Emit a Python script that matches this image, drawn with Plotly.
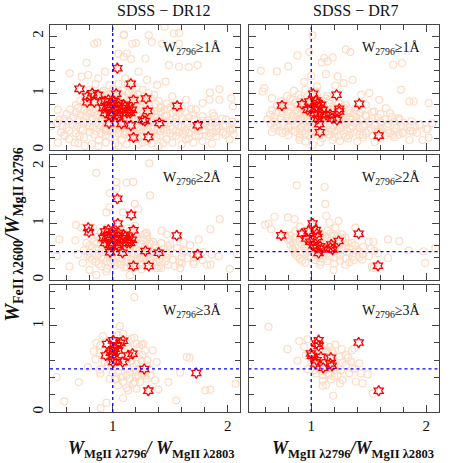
import plotly.graph_objects as go
from plotly.subplots import make_subplots

# ---- data: (W2796/W2803, W2600/W2796) ----

# SDSS-DR12, W2796 >= 1A : background sample
dr12_w1_bg = [
    (0.866, 1.894), (1.099, 2.029), (1.201, 1.882), (1.45, 2.17), (1.53, 2.05), (1.576, 2.06),
    (1.313, 2.02), (1.094, 2.02), (0.84, 1.87), (1.17, 1.87), (1.34, 1.9), (1.43, 1.87),
    (1.576, 1.87), (1.737, 1.494), (1.66, 1.46), (1.576, 1.465), (1.488, 1.494), (1.284, 1.61),
    (1.05, 1.698), (1.094, 1.64), (1.123, 1.698), (1.16, 1.6), (0.772, 1.535), (0.626, 1.349),
    (0.728, 1.29), (0.787, 1.32), (0.933, 1.378), (0.874, 1.262), (1.225, 1.378), (1.298, 1.233),
    (1.386, 1.145), (1.459, 1.203), (1.108, 1.262), (1.167, 1.174), (1.205, 1.087), (1.927, 1.07),
    (2.03, 0.913), (1.845, 1.01), (1.781, 0.826), (1.84, 0.884), (1.927, 0.884), (0.523, 0.709),
    (0.538, 0.535), (0.465, 0.419), (0.582, 0.244), (0.523, 0.128), (0.67, 0.128), (0.757, 0.07),
    (1.518, 0.942), (1.635, 0.884), (1.722, 0.709), (1.868, 0.651), (2.044, 0.767), (1.985, 0.535),
    (2.044, 0.36), (1.868, 0.302), (1.751, 0.244), (1.635, 0.186), (1.518, 0.128), (1.4, 0.07),
    (1.225, 0.099), (1.05, 0.07), (0.874, 0.07), (1.898, 0.419), (1.81, 0.477), (2.015, 0.186),
    (0.62, 0.19), (0.75, 0.22), (0.88, 0.17), (0.97, 0.23), (1.08, 0.18), (1.15, 0.24),
    (1.22, 0.2), (1.3, 0.16), (1.38, 0.23), (1.47, 0.19), (1.55, 0.25), (1.66, 0.2),
    (1.78, 0.16), (1.9, 0.24),
    (0.55, 0.31), (0.68, 0.29), (0.8, 0.32), (0.9, 0.3), (0.98, 0.33), (1.05, 0.29),
    (1.12, 0.31), (1.2, 0.28), (1.27, 0.32), (1.35, 0.3), (1.42, 0.33), (1.5, 0.29),
    (1.58, 0.31), (1.66, 0.3), (1.74, 0.33), (1.85, 0.29), (1.96, 0.31), (2.05, 0.28),
    (0.6, 0.39), (0.72, 0.37), (0.83, 0.4), (0.92, 0.38), (1.0, 0.36), (1.07, 0.4),
    (1.14, 0.37), (1.21, 0.39), (1.29, 0.36), (1.36, 0.4), (1.44, 0.38), (1.52, 0.37),
    (1.6, 0.4), (1.7, 0.38), (1.8, 0.36), (1.92, 0.39), (2.04, 0.37),
    (0.52, 0.47), (0.65, 0.45), (0.78, 0.48), (0.88, 0.44), (0.95, 0.47), (1.03, 0.45),
    (1.1, 0.48), (1.17, 0.46), (1.25, 0.44), (1.32, 0.47), (1.4, 0.45), (1.48, 0.48),
    (1.57, 0.44), (1.65, 0.47), (1.75, 0.45), (1.86, 0.48), (1.98, 0.44), (2.08, 0.46),
    (0.58, 0.55), (0.7, 0.53), (0.82, 0.56), (0.9, 0.54), (0.97, 0.52), (1.04, 0.55),
    (1.11, 0.53), (1.18, 0.56), (1.26, 0.54), (1.33, 0.52), (1.41, 0.55), (1.5, 0.53),
    (1.6, 0.56), (1.71, 0.54), (1.83, 0.52), (1.95, 0.55),
    (0.6, 0.63), (0.72, 0.61), (0.8, 0.64), (0.87, 0.62), (0.94, 0.6), (1.01, 0.63),
    (1.08, 0.61), (1.15, 0.64), (1.22, 0.62), (1.3, 0.6), (1.38, 0.63), (1.47, 0.61),
    (1.58, 0.64), (1.7, 0.62), (1.88, 0.6),
    (0.63, 0.71), (0.75, 0.69), (0.84, 0.72), (0.92, 0.7), (0.99, 0.68), (1.06, 0.71),
    (1.13, 0.69), (1.2, 0.72), (1.28, 0.7), (1.36, 0.68), (1.45, 0.71), (1.55, 0.69),
    (1.68, 0.72),
    (0.68, 0.79), (0.8, 0.77), (0.88, 0.8), (0.95, 0.78), (1.02, 0.76), (1.09, 0.79),
    (1.16, 0.77), (1.24, 0.8), (1.32, 0.78), (1.42, 0.76), (1.53, 0.79),
    (0.72, 0.87), (0.83, 0.85), (0.91, 0.88), (0.98, 0.86), (1.05, 0.84), (1.12, 0.87),
    (1.2, 0.85), (1.3, 0.88), (1.4, 0.86),
    (0.76, 0.96), (0.87, 0.94), (0.95, 0.97), (1.02, 0.95), (1.1, 0.93), (1.18, 0.96),
    (1.27, 0.94), (1.36, 0.97),
    (0.8, 1.06), (0.92, 1.04), (1.0, 1.07), (1.08, 1.05), (1.17, 1.03), (1.26, 1.06),
    (0.85, 1.16), (0.97, 1.14), (1.05, 1.17), (1.13, 1.15),
]

dr12_w1_bg_dense = [
    (0.7, 0.12), (0.82, 0.11), (0.94, 0.13), (1.02, 0.12), (1.12, 0.1), (1.26, 0.13),
    (1.34, 0.11), (1.44, 0.12), (1.6, 0.1), (1.7, 0.13), (1.86, 0.11),
    (0.58, 0.26), (0.71, 0.25), (0.84, 0.27), (0.94, 0.26), (1.02, 0.25), (1.1, 0.27),
    (1.18, 0.26), (1.25, 0.25), (1.33, 0.27), (1.41, 0.26), (1.52, 0.24), (1.62, 0.27),
    (1.72, 0.26), (1.84, 0.25), (1.98, 0.27),
    (0.62, 0.34), (0.74, 0.35), (0.86, 0.33), (0.94, 0.34), (1.02, 0.35), (1.09, 0.33),
    (1.16, 0.34), (1.24, 0.35), (1.31, 0.33), (1.39, 0.34), (1.47, 0.35), (1.55, 0.33),
    (1.63, 0.34), (1.78, 0.35), (1.9, 0.33), (2.02, 0.34),
    (0.56, 0.42), (0.69, 0.43), (0.8, 0.41), (0.9, 0.42), (0.98, 0.43), (1.05, 0.41),
    (1.12, 0.42), (1.19, 0.43), (1.27, 0.41), (1.34, 0.42), (1.42, 0.43), (1.5, 0.41),
    (1.6, 0.42), (1.72, 0.43), (1.84, 0.41), (1.96, 0.42),
    (0.62, 0.5), (0.75, 0.51), (0.86, 0.49), (0.93, 0.5), (1.01, 0.51), (1.07, 0.49),
    (1.14, 0.5), (1.22, 0.51), (1.29, 0.49), (1.37, 0.5), (1.45, 0.51), (1.54, 0.49),
    (1.64, 0.5), (1.78, 0.51), (1.9, 0.49), (2.04, 0.5),
    (0.66, 0.58), (0.77, 0.59), (0.86, 0.57), (0.93, 0.58), (1.0, 0.59), (1.08, 0.57),
    (1.14, 0.58), (1.22, 0.59), (1.3, 0.57), (1.37, 0.58), (1.45, 0.59), (1.55, 0.57),
    (1.66, 0.58), (1.78, 0.59),
    (0.68, 0.66), (0.78, 0.67), (0.84, 0.65), (0.91, 0.66), (0.98, 0.67), (1.05, 0.65),
    (1.12, 0.66), (1.18, 0.67), (1.26, 0.65), (1.34, 0.66), (1.42, 0.67), (1.52, 0.65),
    (1.63, 0.66),
    (0.7, 0.74), (0.8, 0.75), (0.88, 0.73), (0.96, 0.74), (1.03, 0.75), (1.1, 0.73),
    (1.17, 0.74), (1.24, 0.75), (1.32, 0.73), (1.41, 0.74), (1.5, 0.75), (1.6, 0.73),
    (0.75, 0.82), (0.85, 0.83), (0.93, 0.81), (1.0, 0.82), (1.07, 0.83), (1.14, 0.81),
    (1.21, 0.82), (1.28, 0.83), (1.37, 0.81), (1.47, 0.82),
    (0.8, 0.9), (0.89, 0.91), (0.96, 0.89), (1.03, 0.9), (1.09, 0.91), (1.16, 0.89),
    (1.24, 0.9), (1.33, 0.91),
    (0.83, 1.0), (0.91, 1.01), (0.98, 0.99), (1.06, 1.0), (1.14, 1.01), (1.22, 0.99),
    (1.31, 1.0),
]

dr12_core_stars = [
    (0.933, 0.855), (0.962, 0.884), (0.947, 0.767), (0.991, 0.797), (1.02, 0.709),
    (1.05, 0.767), (1.006, 0.651), (0.977, 0.622), (1.035, 0.622), (1.079, 0.738),
    (1.108, 0.767), (1.137, 0.709), (1.167, 0.709), (1.079, 0.651), (1.123, 0.651),
    (1.05, 0.826), (1.094, 0.797), (0.933, 0.651), (0.962, 0.738), (1.006, 0.855),
    (0.918, 0.738), (1.152, 0.651), (1.05, 0.593), (0.991, 0.593),
]

dr12_w1_stars = [
    (0.711, 1.076), (1.04, 1.44), (1.157, 1.165), (1.03, 0.99), (0.778, 0.94), (0.822, 1.0),
    (0.872, 0.97), (0.778, 0.84), (0.84, 0.84), (1.18, 0.88), (1.289, 0.906), (1.56, 0.776),
    (1.303, 0.688), (1.26, 0.53), (1.28, 0.51), (0.968, 0.47), (1.076, 0.46), (1.157, 0.43),
    (1.405, 0.476), (1.738, 0.435), (1.18, 0.22), (1.309, 0.23),
] + dr12_core_stars

# SDSS-DR7, W2796 >= 1A
dr7_w1_bg = [
    (1.012, 2.018), (0.983, 1.724), (0.881, 1.665), (0.8, 1.47), (0.562, 1.394), (0.701, 1.382),
    (1.113, 1.618), (1.186, 1.629), (1.093, 1.541), (1.142, 1.559), (1.301, 1.765), (1.339, 1.724),
    (1.713, 1.5), (1.788, 1.529), (1.78, 1.059), (1.281, 1.176), (1.359, 1.235), (1.432, 0.971),
    (1.504, 1.0), (1.229, 1.294), (1.128, 1.335), (1.209, 1.135), (0.591, 1.088), (0.577, 1.029),
    (0.658, 0.912), (1.852, 0.853), (1.89, 0.853), (2.02, 0.824), (2.012, 0.371), (2.02, 0.218),
    (1.968, 0.176), (1.881, 0.324), (1.939, 0.441), (1.765, 0.529), (1.684, 0.647), (1.649, 0.735),
    (1.591, 0.882), (1.548, 0.676), (1.475, 0.794), (0.658, 0.312), (0.78, 0.324), (0.896, 0.176),
    (1.012, 0.088), (1.186, 0.176), (1.301, 0.235), (1.446, 0.265), (1.591, 0.324), (1.707, 0.265),
    (1.794, 0.294), (1.852, 0.176), (0.94, 1.2), (1.05, 1.12), (1.0, 1.3),
    (0.9, 0.22), (1.0, 0.24), (1.1, 0.21), (1.2, 0.23), (1.32, 0.2), (1.45, 0.22), (1.6, 0.21),
    (1.72, 0.23),
    (0.75, 0.3), (0.86, 0.32), (0.95, 0.29), (1.03, 0.31), (1.12, 0.3), (1.2, 0.32),
    (1.28, 0.29), (1.37, 0.31), (1.48, 0.3), (1.58, 0.32), (1.68, 0.29), (1.8, 0.31), (1.92, 0.3),
    (0.68, 0.38), (0.8, 0.4), (0.9, 0.37), (0.97, 0.39), (1.04, 0.38), (1.11, 0.4),
    (1.18, 0.37), (1.26, 0.39), (1.34, 0.38), (1.42, 0.4), (1.52, 0.37), (1.62, 0.39),
    (1.74, 0.38), (1.86, 0.4), (2.0, 0.37),
    (0.65, 0.46), (0.76, 0.48), (0.86, 0.45), (0.93, 0.47), (1.0, 0.46), (1.07, 0.48),
    (1.14, 0.45), (1.21, 0.47), (1.29, 0.46), (1.37, 0.48), (1.46, 0.45), (1.56, 0.47),
    (1.67, 0.46), (1.8, 0.48), (1.94, 0.45), (2.05, 0.47),
    (0.62, 0.54), (0.74, 0.56), (0.83, 0.53), (0.9, 0.55), (0.97, 0.54), (1.04, 0.56),
    (1.11, 0.53), (1.18, 0.55), (1.26, 0.54), (1.34, 0.56), (1.43, 0.53), (1.53, 0.55),
    (1.64, 0.54), (1.76, 0.56),
    (0.64, 0.62), (0.75, 0.64), (0.84, 0.61), (0.91, 0.63), (0.98, 0.62), (1.05, 0.64),
    (1.12, 0.61), (1.2, 0.63), (1.28, 0.62), (1.37, 0.64), (1.47, 0.61), (1.6, 0.63),
    (0.66, 0.7), (0.77, 0.72), (0.86, 0.69), (0.93, 0.71), (1.0, 0.7), (1.07, 0.72),
    (1.15, 0.69), (1.24, 0.71), (1.33, 0.7), (1.44, 0.72),
    (0.7, 0.78), (0.8, 0.8), (0.88, 0.77), (0.95, 0.79), (1.02, 0.78), (1.1, 0.8),
    (1.19, 0.77), (1.3, 0.79),
    (0.74, 0.86), (0.84, 0.88), (0.92, 0.85), (0.99, 0.87), (1.07, 0.86), (1.16, 0.88),
    (0.79, 0.95), (0.89, 0.97), (0.97, 0.94), (1.05, 0.96), (1.14, 0.95),
    (0.85, 1.04), (0.95, 1.06), (1.04, 1.03),
]

dr7_w1_bg_dense = [
    (0.95, 0.15), (1.08, 0.14), (1.25, 0.16), (1.4, 0.15), (1.55, 0.14),
    (0.8, 0.26), (0.9, 0.27), (0.98, 0.25), (1.07, 0.26), (1.16, 0.27), (1.24, 0.25),
    (1.33, 0.26), (1.42, 0.27), (1.53, 0.25), (1.64, 0.26), (1.76, 0.27),
    (0.72, 0.34), (0.83, 0.35), (0.92, 0.33), (1.0, 0.34), (1.07, 0.35), (1.15, 0.33),
    (1.22, 0.34), (1.31, 0.35), (1.4, 0.33), (1.5, 0.34), (1.6, 0.35), (1.72, 0.33), (1.86, 0.34),
    (0.7, 0.42), (0.82, 0.43), (0.92, 0.41), (0.99, 0.42), (1.06, 0.43), (1.13, 0.41),
    (1.2, 0.42), (1.28, 0.43), (1.36, 0.41), (1.45, 0.42), (1.55, 0.43), (1.66, 0.41),
    (1.78, 0.42), (1.9, 0.43),
    (0.68, 0.5), (0.8, 0.51), (0.89, 0.49), (0.96, 0.5), (1.03, 0.51), (1.1, 0.49),
    (1.17, 0.5), (1.24, 0.51), (1.32, 0.49), (1.4, 0.5), (1.5, 0.51), (1.6, 0.49),
    (1.72, 0.5), (1.87, 0.51),
    (0.68, 0.58), (0.79, 0.59), (0.87, 0.57), (0.94, 0.58), (1.01, 0.59), (1.08, 0.57),
    (1.15, 0.58), (1.22, 0.59), (1.3, 0.57), (1.39, 0.58), (1.48, 0.59), (1.58, 0.57), (1.7, 0.58),
    (0.7, 0.66), (0.8, 0.67), (0.88, 0.65), (0.95, 0.66), (1.02, 0.67), (1.09, 0.65),
    (1.17, 0.66), (1.25, 0.67), (1.34, 0.65), (1.42, 0.66), (1.53, 0.67),
    (0.73, 0.74), (0.83, 0.75), (0.9, 0.73), (0.97, 0.74), (1.04, 0.75), (1.12, 0.73),
    (1.2, 0.74), (1.28, 0.75), (1.38, 0.73),
    (0.77, 0.82), (0.86, 0.83), (0.94, 0.81), (1.01, 0.82), (1.08, 0.83), (1.16, 0.81), (1.24, 0.82),
    (0.82, 0.9), (0.91, 0.91), (0.99, 0.89), (1.06, 0.9), (1.13, 0.91),
]

dr7_w1_stars = [
    (0.745, 0.782), (0.919, 0.806), (0.983, 0.853), (1.017, 0.988), (1.041, 0.871),
    (1.055, 0.824), (1.046, 0.765), (1.084, 0.794), (0.997, 0.724), (0.968, 0.706),
    (1.026, 0.647), (1.055, 0.618), (1.093, 0.629), (1.128, 0.618), (1.165, 0.629),
    (1.099, 0.706), (1.18, 0.559), (1.223, 0.529), (1.055, 0.547), (1.07, 0.459),
    (1.075, 0.312), (1.22, 0.971), (1.243, 0.724), (1.243, 0.676), (1.417, 0.812),
    (1.586, 0.253),
]

# SDSS-DR12, W2796 >= 2A
dr12_w2_bg = [
    (0.857, 1.887), (1.318, 2.054), (1.178, 1.726), (1.12, 1.714), (1.032, 1.726), (1.032, 1.607),
    (1.324, 1.488), (0.974, 1.53), (1.192, 1.339), (1.222, 1.25), (0.945, 1.19), (0.974, 1.28),
    (1.09, 1.19), (0.682, 0.97), (0.726, 0.923), (0.828, 0.923), (0.536, 0.714), (0.513, 0.417),
    (0.624, 0.238), (0.676, 0.696), (0.77, 0.655), (0.799, 0.179), (0.857, 0.089), (0.945, 0.149),
    (1.149, 0.089), (1.382, 0.208), (1.586, 0.208), (1.703, 0.28), (1.819, 0.268), (1.85, 0.27),
    (1.921, 0.417), (2.017, 0.196), (1.93, 1.071), (1.848, 0.893), (1.746, 0.714), (1.615, 0.655),
    (1.673, 0.613), (1.499, 0.625), (1.426, 0.863), (1.469, 0.804), (1.294, 0.833), (1.192, 0.952),
    (2.08, 0.45), (0.7, 0.45), (0.74, 0.3),
    (0.95, 0.2), (1.1, 0.22), (1.25, 0.19), (1.42, 0.21),
    (0.88, 0.28), (0.98, 0.3), (1.07, 0.27), (1.16, 0.29), (1.25, 0.28), (1.35, 0.3),
    (1.48, 0.27), (1.6, 0.29),
    (0.82, 0.36), (0.92, 0.38), (1.0, 0.35), (1.08, 0.37), (1.16, 0.36), (1.24, 0.38),
    (1.32, 0.35), (1.41, 0.37), (1.52, 0.36), (1.65, 0.38), (1.78, 0.35),
    (0.78, 0.44), (0.88, 0.46), (0.96, 0.43), (1.04, 0.45), (1.11, 0.44), (1.18, 0.46),
    (1.26, 0.43), (1.34, 0.45), (1.43, 0.44), (1.55, 0.46), (1.7, 0.43), (1.86, 0.45),
    (0.75, 0.52), (0.86, 0.54), (0.94, 0.51), (1.01, 0.53), (1.08, 0.52), (1.15, 0.54),
    (1.23, 0.51), (1.31, 0.53), (1.4, 0.52), (1.5, 0.54), (1.62, 0.51),
    (0.8, 0.6), (0.9, 0.62), (0.97, 0.59), (1.05, 0.61), (1.12, 0.6), (1.2, 0.62),
    (1.28, 0.59), (1.37, 0.61), (1.48, 0.6),
    (0.84, 0.68), (0.93, 0.7), (1.01, 0.67), (1.09, 0.69), (1.17, 0.68), (1.26, 0.7), (1.35, 0.67),
    (0.87, 0.76), (0.96, 0.78), (1.04, 0.75), (1.12, 0.77), (1.21, 0.76), (1.3, 0.78),
    (0.9, 0.84), (1.0, 0.86), (1.08, 0.83), (1.17, 0.85),
    (0.95, 0.92), (1.04, 0.94), (1.13, 0.91),
]

dr12_w2_bg_dense = [
    (0.9, 0.24), (1.02, 0.25), (1.12, 0.23), (1.2, 0.24), (1.3, 0.25), (1.4, 0.23), (1.54, 0.24),
    (0.85, 0.32), (0.95, 0.33), (1.04, 0.31), (1.12, 0.32), (1.2, 0.33), (1.29, 0.31),
    (1.38, 0.32), (1.46, 0.33), (1.58, 0.31), (1.7, 0.32),
    (0.8, 0.4), (0.9, 0.41), (0.98, 0.39), (1.05, 0.4), (1.13, 0.41), (1.21, 0.39),
    (1.29, 0.4), (1.37, 0.41), (1.47, 0.39), (1.6, 0.4), (1.74, 0.41),
    (0.8, 0.48), (0.91, 0.49), (0.99, 0.47), (1.07, 0.48), (1.14, 0.49), (1.22, 0.47),
    (1.3, 0.48), (1.38, 0.49), (1.47, 0.47), (1.6, 0.48), (1.78, 0.49),
    (0.82, 0.56), (0.91, 0.57), (0.99, 0.55), (1.06, 0.56), (1.13, 0.57), (1.2, 0.55),
    (1.28, 0.56), (1.36, 0.57), (1.45, 0.55), (1.56, 0.56),
    (0.86, 0.64), (0.94, 0.65), (1.02, 0.63), (1.09, 0.64), (1.16, 0.65), (1.24, 0.63),
    (1.32, 0.64), (1.42, 0.65),
    (0.89, 0.72), (0.98, 0.73), (1.06, 0.71), (1.14, 0.72), (1.22, 0.73), (1.3, 0.71),
    (0.93, 0.8), (1.02, 0.81), (1.1, 0.79), (1.2, 0.8), (1.28, 0.81),
    (0.97, 0.88), (1.06, 0.89), (1.15, 0.87),
]

dr12_w2_stars = [
    (1.04, 1.43), (1.16, 1.146), (1.044, 0.994), (0.787, 0.918), (0.793, 0.842), (1.18, 0.877),
    (1.556, 0.784), (0.977, 0.49), (1.085, 0.48), (1.284, 0.509), (1.4, 0.48), (1.737, 0.45),
    (1.18, 0.246), (1.313, 0.246),
] + dr12_core_stars

# SDSS-DR7, W2796 >= 2A
dr7_w2_bg = [
    (0.875, 1.667), (1.116, 1.637), (1.122, 1.339), (1.13, 1.131), (1.159, 1.012), (0.629, 0.994),
    (0.681, 1.113), (0.797, 1.101), (0.855, 1.071), (0.652, 0.893), (0.774, 0.804), (0.817, 0.714),
    (1.383, 0.923), (1.499, 0.673), (1.54, 0.673), (1.667, 0.714), (1.765, 0.685), (1.846, 0.518),
    (1.977, 0.506), (2.078, 0.565), (1.667, 0.387), (1.99, 0.298), (1.528, 0.238), (1.541, 0.208),
    (1.194, 0.179), (1.078, 0.268), (1.296, 0.268), (1.441, 0.357), (1.267, 0.804), (1.296, 0.744),
    (1.354, 0.655), (1.209, 0.923), (1.238, 1.042), (0.6, 0.97),
    (0.95, 0.3), (1.08, 0.32), (1.2, 0.29), (1.33, 0.31),
    (0.9, 0.38), (1.0, 0.4), (1.1, 0.37), (1.2, 0.39), (1.3, 0.38), (1.42, 0.4),
    (0.86, 0.46), (0.96, 0.48), (1.05, 0.45), (1.14, 0.47), (1.23, 0.46), (1.33, 0.48),
    (1.45, 0.45), (1.58, 0.47),
    (0.84, 0.54), (0.94, 0.56), (1.03, 0.53), (1.12, 0.55), (1.21, 0.54), (1.3, 0.56),
    (1.4, 0.53), (1.52, 0.55),
    (0.82, 0.62), (0.92, 0.64), (1.01, 0.61), (1.1, 0.63), (1.19, 0.62), (1.28, 0.64), (1.38, 0.61),
    (0.8, 0.7), (0.9, 0.72), (0.99, 0.69), (1.08, 0.71), (1.17, 0.7), (1.27, 0.72),
    (0.82, 0.78), (0.92, 0.8), (1.01, 0.77), (1.1, 0.79), (1.2, 0.78),
    (0.86, 0.86), (0.96, 0.88), (1.05, 0.85), (1.14, 0.87),
    (0.9, 0.94), (1.0, 0.96),
]

dr7_w2_bg_dense = [
    (0.92, 0.34), (1.03, 0.35), (1.14, 0.33), (1.25, 0.34), (1.37, 0.35),
    (0.88, 0.42), (0.98, 0.43), (1.07, 0.41), (1.16, 0.42), (1.25, 0.43), (1.36, 0.41), (1.5, 0.42),
    (0.86, 0.5), (0.95, 0.51), (1.04, 0.49), (1.13, 0.5), (1.22, 0.51), (1.31, 0.49),
    (1.42, 0.5), (1.55, 0.51),
    (0.86, 0.58), (0.95, 0.59), (1.05, 0.57), (1.14, 0.58), (1.23, 0.59), (1.33, 0.57), (1.45, 0.58),
    (0.84, 0.66), (0.94, 0.67), (1.03, 0.65), (1.13, 0.66), (1.22, 0.67), (1.32, 0.65),
    (0.86, 0.74), (0.96, 0.75), (1.05, 0.73), (1.14, 0.74), (1.24, 0.75),
    (0.9, 0.82), (0.99, 0.83), (1.08, 0.81), (1.17, 0.82),
]

dr7_w2_stars = [
    (0.739, 0.786), (0.919, 0.815), (0.977, 0.863), (1.012, 0.994), (1.041, 0.881),
    (1.049, 0.815), (1.055, 0.756), (0.957, 0.732), (0.991, 0.673), (1.02, 0.613),
    (1.049, 0.565), (1.078, 0.595), (1.064, 0.476), (1.174, 0.625), (1.168, 0.565),
    (1.186, 0.536), (1.238, 0.685), (1.412, 0.815), (1.58, 0.25), (1.087, 0.536),
]

# SDSS-DR12, W2796 >= 3A
dr12_w3_bg = [
    (1.187, 1.329), (1.061, 0.994), (0.915, 0.879), (1.187, 0.859), (0.857, 0.798), (0.892, 0.771),
    (0.837, 0.701), (0.886, 0.682), (0.851, 0.609), (0.784, 0.52), (0.892, 0.493), (0.892, 0.443),
    (0.513, 0.405), (0.706, 0.347), (0.58, 0.123), (0.945, 0.108), (0.895, 0.046), (1.09, 0.162),
    (1.12, 0.277), (1.134, 0.25), (1.192, 0.347), (1.207, 0.27), (1.236, 0.347), (1.294, 0.385),
    (1.324, 0.27), (1.397, 0.262), (1.367, 0.366), (1.382, 0.578), (1.347, 0.713), (1.265, 0.79),
    (1.25, 0.778), (1.23, 0.751), (1.484, 0.347), (1.551, 0.135), (1.586, 0.455), (1.644, 0.636),
    (1.668, 0.628), (1.805, 0.25), (1.848, 0.258), (2.067, 0.328), (1.12, 0.424), (1.149, 0.462),
    (1.178, 0.52), (1.207, 0.559), (1.163, 0.597), (1.12, 0.578), (1.207, 0.636), (1.25, 0.597),
    (1.294, 0.54), (1.324, 0.493), (1.265, 0.443), (1.221, 0.424), (1.047, 0.462), (1.076, 0.405),
    (1.032, 0.385), (1.09, 0.347), (0.974, 0.385), (1.047, 0.308), (1.149, 0.385), (1.178, 0.328),
    (1.236, 0.501), (1.28, 0.424), (0.959, 0.54), (0.93, 0.578), (0.988, 0.52), (1.105, 0.694),
    (1.134, 0.751), (1.207, 0.79), (1.163, 0.848), (1.047, 0.886), (1.09, 0.906),
    (1.0, 0.45), (1.07, 0.52), (1.13, 0.5), (1.2, 0.47), (1.1, 0.62), (1.17, 0.68),
    (1.26, 0.66), (1.3, 0.6), (1.02, 0.38), (1.2, 0.4), (1.33, 0.42), (0.97, 0.61),
    (1.12, 0.8), (1.28, 0.71),
]

dr12_w3_stars = [
    (0.95, 0.786), (1.003, 0.829), (1.038, 0.771), (1.09, 0.825), (1.067, 0.8), (1.003, 0.713),
    (1.017, 0.732), (1.047, 0.713), (0.939, 0.655), (0.997, 0.636), (1.003, 0.578), (1.038, 0.597),
    (1.085, 0.578), (1.134, 0.655), (1.172, 0.674), (1.274, 0.497), (1.726, 0.451), (1.309, 0.247),
    (0.983, 0.686),
]

# SDSS-DR7, W2796 >= 3A
dr7_w3_bg = [
    (0.629, 0.985), (0.794, 0.727), (0.896, 0.823), (0.968, 0.842), (0.939, 0.754), (0.881, 0.592),
    (0.954, 0.658), (0.968, 0.496), (1.041, 0.446), (1.099, 0.304), (1.128, 0.312), (1.191, 0.188),
    (1.113, 0.773), (1.128, 0.715), (1.209, 0.781), (1.264, 0.727), (1.301, 0.658), (1.354, 0.715),
    (1.374, 0.735), (1.345, 0.581), (1.359, 0.504), (1.301, 0.542), (1.258, 0.485), (1.214, 0.485),
    (1.272, 0.369), (1.2, 0.408), (1.229, 0.427), (1.157, 0.427), (1.099, 0.427), (1.128, 0.504),
    (1.142, 0.446), (1.214, 0.581), (1.243, 0.638), (1.191, 0.677), (1.142, 0.696), (1.099, 0.715),
    (1.417, 0.562), (1.388, 0.35), (1.446, 0.331), (1.49, 0.435), (1.536, 0.215), (1.432, 0.446),
    (1.055, 0.512), (1.026, 0.485), (1.084, 0.473), (1.075, 0.542), (1.157, 0.754),
    (1.13, 0.6), (1.2, 0.52), (1.27, 0.57), (1.33, 0.45), (1.17, 0.38), (1.1, 0.36),
    (1.25, 0.33), (1.32, 0.63), (1.18, 0.71), (1.06, 0.63), (1.0, 0.58), (1.38, 0.5),
]

dr7_w3_stars = [
    (1.064, 0.831), (1.046, 0.792), (1.064, 0.765), (0.997, 0.677), (1.006, 0.65), (1.084, 0.638),
    (1.046, 0.6), (1.035, 0.562), (1.171, 0.627), (1.165, 0.562), (1.18, 0.535), (1.104, 0.512),
    (1.412, 0.804), (1.586, 0.246),
]

column_titles = ["SDSS − DR12", "SDSS − DR7"]
panel_labels = ["W<sub>2796</sub>≥1Å", "W<sub>2796</sub>≥2Å", "W<sub>2796</sub>≥3Å"]

panels = [
    (1, 1, dr12_w1_bg + dr12_w1_bg_dense, dr12_w1_stars),
    (1, 2, dr7_w1_bg + dr7_w1_bg_dense, dr7_w1_stars),
    (2, 1, dr12_w2_bg + dr12_w2_bg_dense, dr12_w2_stars),
    (2, 2, dr7_w2_bg + dr7_w2_bg_dense, dr7_w2_stars),
    (3, 1, dr12_w3_bg, dr12_w3_stars),
    (3, 2, dr7_w3_bg, dr7_w3_stars),
]

FONT = "Liberation Serif"
PEACH = "#FDDCC6"
FRAME = "#444444"

fig = make_subplots(rows=3, cols=2, horizontal_spacing=0.0206, vertical_spacing=0.013,
                    row_heights=[125, 125, 127])

for row, col, bg, stars in panels:
    fig.add_trace(go.Scatter(
        x=[p[0] for p in bg], y=[p[1] for p in bg], mode="markers",
        marker=dict(symbol="circle-open", size=7, color=PEACH, line=dict(width=1.2, color=PEACH)),
        showlegend=False, hoverinfo="skip"), row=row, col=col)
    fig.add_trace(go.Scatter(
        x=[p[0] for p in stars], y=[p[1] for p in stars], mode="markers",
        marker=dict(symbol="hexagram-open", size=8, color="red", line=dict(width=1.3, color="red")),
        showlegend=False, hoverinfo="skip"), row=row, col=col)

    # reference lines
    fig.add_vline(x=1, row=row, col=col, line=dict(color="blue", dash="dot", width=1.3))
    fig.add_hline(y=0.5, row=row, col=col, line=dict(color="blue", dash="dot", width=1.3))

    ytop = 1.47 if row == 3 else 2.2
    fig.update_xaxes(range=[0.455, 2.11], dtick=1, tick0=0, ticks="inside", ticklen=7,
                     tickwidth=1.1, tickcolor=FRAME, showline=True, linecolor=FRAME, linewidth=1.3,
                     mirror="ticks", showgrid=False, zeroline=False, showticklabels=(row == 3),
                     minor=dict(dtick=0.2, ticks="inside", ticklen=5, tickcolor=FRAME, showgrid=False),
                     tickfont=dict(family=FONT, size=15, color="#111"), row=row, col=col)
    fig.update_yaxes(range=[0, ytop], dtick=1, tick0=0, ticks="inside", ticklen=7,
                     tickwidth=1.1, tickcolor=FRAME, showline=True, linecolor=FRAME, linewidth=1.3,
                     mirror="ticks", showgrid=False, zeroline=False, showticklabels=(col == 1),
                     tickangle=-90,
                     minor=dict(dtick=0.2, ticks="inside", ticklen=5, tickcolor=FRAME, showgrid=False),
                     tickfont=dict(family=FONT, size=15, color="#111"), row=row, col=col)

    # threshold label inside the panel
    idx = (row - 1) * 2 + col
    suffix = "" if idx == 1 else str(idx)
    label_y = 1.16 if row == 3 else 1.78
    fig.add_annotation(x=1.69, y=label_y, xref="x" + suffix, yref="y" + suffix,
                       xanchor="center", yanchor="middle",
                       text=panel_labels[row - 1], showarrow=False,
                       font=dict(family=FONT, size=14, color="#111"))

# column titles
for x, title in zip([0.293, 0.787], column_titles):
    fig.add_annotation(x=x, y=1.0646, xref="paper", yref="paper", text=title,
                       xanchor="center", yanchor="top", showarrow=False,
                       font=dict(family=FONT, size=16, color="#111"))

# axis titles
ytitle = ("<b><i>W</i></b><b><sub>FeII λ2600</sub></b><b><i>/W</i></b>"
          "<b><sub>MgII λ2796</sub></b>")
fig.add_annotation(x=-0.093, y=0.46, xref="paper", yref="paper", text=ytitle, textangle=-90,
                   xanchor="center", yanchor="middle",
                   showarrow=False, font=dict(family=FONT, size=20, color="#111"))
fig.add_annotation(x=0.26, y=-0.098, xref="paper", yref="paper",
                   text="<b><i>W</i></b><b><sub>MgII λ2796</sub></b><b><i>/ W</i></b><b><sub>MgII λ2803</sub></b>",
                   xanchor="center", yanchor="middle",
                   showarrow=False, font=dict(family=FONT, size=18, color="#111"))
fig.add_annotation(x=0.779, y=-0.098, xref="paper", yref="paper",
                   text="<b><i>W</i></b><b><sub>MgII λ2796</sub></b><b><i>/W</i></b><b><sub>MgII λ2803</sub></b>",
                   xanchor="center", yanchor="middle",
                   showarrow=False, font=dict(family=FONT, size=18, color="#111"))

fig.update_layout(width=463, height=463, margin=dict(l=50, r=24, t=25, b=51),
                  paper_bgcolor="white", plot_bgcolor="white",
                  font=dict(family=FONT, color="#111"))

# drop the default 8px page margin so the figure sits at the window's corner
fig.write_html("out.html", config={"displayModeBar": False},
               post_script="document.body.style.margin = '0';")
